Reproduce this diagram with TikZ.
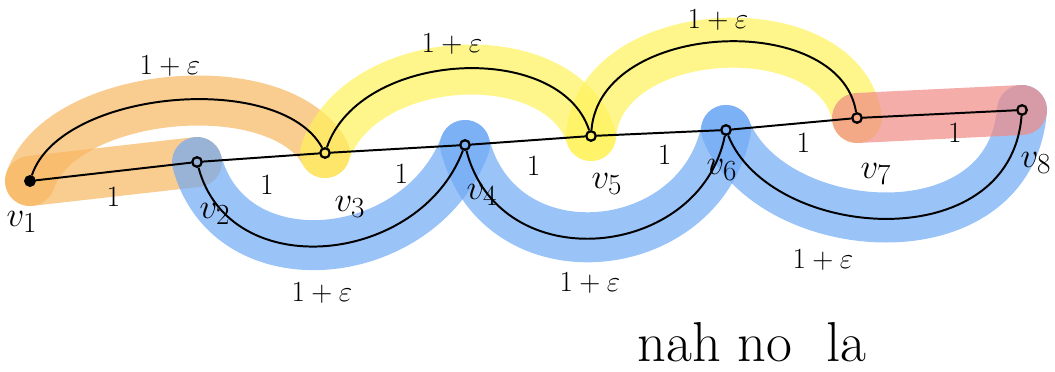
\documentclass[tikz,border=0pt]{standalone}
\usepackage{amsmath, amssymb}
\usepackage{tikz}
\usetikzlibrary{positioning}

\definecolor{hlorange}{HTML}{F7B760}
\definecolor{hlyellow}{HTML}{FFF25A}
\definecolor{hlblue}{HTML}{6FA9F5}
\definecolor{hlred}{HTML}{F08A84}

\begin{document}
\begin{tikzpicture}[x=0.025cm,y=-0.025cm,
		vtx/.style={circle,draw,line width=1.6pt,inner sep=2.4pt},
		hl/.style={line width=1.25cm,line cap=round,line join=round,opacity=0.7},
		pen/.style={line width=1.4pt},
		vlab/.style={font=\fontsize{28}{28}\selectfont},
		wlab/.style={font=\fontsize{21}{21}\selectfont}]
	
	\useasboundingbox (0,0) rectangle (1055,372);
	
	\coordinate (p1) at (30,181);
	\coordinate (p2) at (197,162);
	\coordinate (p3) at (325,153);
	\coordinate (p4) at (465,145);
	\coordinate (p5) at (591,136);
	\coordinate (p6) at (726,130);
	\coordinate (p7) at (857,118);
	\coordinate (p8) at (1022,110);
	
	% highlighted paths
	\draw[hl,hlorange] (p1) .. controls (60,90) and (280,70) .. (p3);
	\draw[hl,hlorange] (p1) -- (p2);
	\draw[hl,hlyellow] (p3) .. controls (360,50) and (560,40) .. (p5);
	\draw[hl,hlyellow] (p5) .. controls (600,20) and (840,10) .. (p7);
	\draw[hl,hlblue] (p2) .. controls (230,285) and (420,265) .. (p4);
	\draw[hl,hlblue] (p4) .. controls (500,280) and (700,260) .. (p6);
	\draw[hl,hlblue] (p6) .. controls (770,240) and (1010,260) .. (p8);
	\draw[hl,hlred] (p7) -- (p8);
	
	\node[vtx,fill=black] (v1) at (p1) {};
	\node[vtx] (v2) at (p2) {};
	\node[vtx] (v3) at (p3) {};
	\node[vtx] (v4) at (p4) {};
	\node[vtx] (v5) at (p5) {};
	\node[vtx] (v6) at (p6) {};
	\node[vtx] (v7) at (p7) {};
	\node[vtx] (v8) at (p8) {};
	
	% path edges
	\draw[pen] (v1)-- node[wlab,pos=0.5,below=7pt]{1} (v2);
	\draw[pen] (v2)-- node[wlab,pos=0.55,below=9pt]{1} (v3);
	\draw[pen] (v3)-- node[wlab,pos=0.55,below=7pt]{1} (v4);
	\draw[pen] (v4)-- node[wlab,pos=0.55,below=7pt]{1} (v5);
	\draw[pen] (v5)-- node[wlab,pos=0.55,below=5pt]{1} (v6);
	\draw[pen] (v6)-- node[wlab,pos=0.6,below=3pt]{1} (v7);
	\draw[pen] (v7)-- node[wlab,pos=0.6,below=3pt]{1} (v8);
	
	% shortcut edges
	\draw[pen] (v1) .. controls (60,90) and (280,70) .. (v3);
	\draw[pen] (v3) .. controls (360,50) and (560,40) .. (v5);
	\draw[pen] (v5) .. controls (600,20) and (840,10) .. (v7);
	\draw[pen] (v2) .. controls (230,285) and (420,265) .. (v4);
	\draw[pen] (v4) .. controls (500,280) and (700,260) .. (v6);
	\draw[pen] (v6) .. controls (770,240) and (1010,260) .. (v8);
	
	\node[wlab] (e13) at (170,66) {$1+\varepsilon$};
	\node[wlab] (e35) at (452,44) {$1+\varepsilon$};
	\node[wlab] (e57) at (718,20) {$1+\varepsilon$};
	\node[wlab] (e24) at (322,293) {$1+\varepsilon$};
	\node[wlab] (e46) at (590,283) {$1+\varepsilon$};
	\node[wlab] (e68) at (823,260) {$1+\varepsilon$};
	
	% vertex labels
	\node[vlab] (l1) at (22,222) {$v_1$};
	\node[vlab] (l2) at (215,214) {$v_2$};
	\node[vlab] (l3) at (350,207) {$v_3$};
	\node[vlab] (l4) at (482,195) {$v_4$};
	\node[vlab] (l5) at (607,184) {$v_5$};
	\node[vlab] (l6) at (722,170) {$v_6$};
	\node[vlab] (l7) at (876,174) {$v_7$};
	\node[vlab] (l8) at (1036,163) {$v_8$};
	
	\node[font=\fontsize{40}{40}\selectfont] (note) at (752,342) {nah no\ \ la};
	
\end{tikzpicture}
\end{document}
